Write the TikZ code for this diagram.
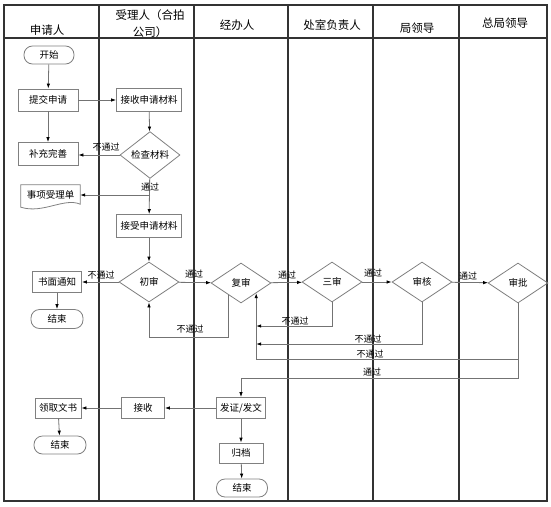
\documentclass[tikz,border=0pt]{standalone}
\usepackage{fontspec}
\setmainfont{Noto Sans CJK SC}
\usetikzlibrary{shapes.geometric,arrows.meta,calc}
\begin{document}
\begin{tikzpicture}[x=1pt,y=-1pt,
  lane/.style={draw=black!80, line width=1.2pt},
  box/.style={draw=black!50, line width=0.8pt, rectangle, inner sep=0pt, font=\fontsize{9.5}{11}\selectfont},
  term/.style={box, rounded corners=8.5pt},
  dia/.style={draw=black!50, line width=0.8pt, diamond, inner sep=0pt, minimum width=60pt, minimum height=40pt, font=\fontsize{9.5}{11}\selectfont},
  conn/.style={draw=black!55, line width=0.8pt, -{Latex[length=5pt,width=3.5pt,color=black]}},
  lbl/.style={font=\fontsize{9}{10}\selectfont, inner sep=0pt},
  hdr/.style={font=\fontsize{11.5}{17}\selectfont, align=center, inner sep=0pt}
]
\useasboundingbox (0,0) rectangle (551,506);

% frame and lanes
\draw[lane] (4,5) rectangle (547,501);
\draw[lane] (4,38) -- (547,38);
\foreach \xx in {99,194,288,373,459} { \draw[lane] (\xx,5) -- (\xx,501); }

% headers
\node[hdr] (h1) at (47,30) {申请人};
\node[hdr] (h2) at (150,24) {受理人（合拍\\公司）};
\node[hdr] (h3) at (237,25) {经办人};
\node[hdr] (h4) at (332,25) {处室负责人};
\node[hdr] (h5) at (417,28) {局领导};
\node[hdr] (h6) at (505,23) {总局领导};

% nodes
\node[term, minimum width=50pt, minimum height=18pt] (start) at (49,55) {开始};
\node[box, minimum width=60pt, minimum height=22pt] (submit) at (48,100) {提交申请};
\node[box, minimum width=65pt, minimum height=23pt] (recv) at (149,100) {接收申请材料};
\node[dia] (check) at (150,155) {检查材料};
\node[box, minimum width=60pt, minimum height=23pt] (supp) at (48,154) {补充完善};
\node[inner sep=0pt, minimum width=59pt, minimum height=20pt, font=\fontsize{9.5}{11}\selectfont] (doc) at (50.5,195) {事项受理单};
\draw[draw=black!50, line width=0.8pt] (doc.north west) -- (doc.north east) -- ($(doc.south east)+(0,-1)$)
  .. controls ($(doc.south east)+(-16,-8)$) and ($(doc.south west)+(22,9)$) .. ($(doc.south west)+(0,2)$) -- cycle;
\node[box, minimum width=65pt, minimum height=23pt] (accept) at (149,226) {接受申请材料};
\node[dia] (chu) at (149,282) {初审};
\node[box, minimum width=49pt, minimum height=21pt] (notice) at (57,282) {书面通知};
\node[term, minimum width=52pt, minimum height=19pt] (end1) at (57,319) {结束};
\node[dia] (fu) at (241,283) {复审};
\node[dia] (san) at (332,282) {三审};
\node[dia] (he) at (422,282) {审核};
\node[dia] (pi) at (518,283) {审批};
\node[box, minimum width=49pt, minimum height=21pt] (issue) at (241,408) {发证/发文};
\node[box, minimum width=43pt, minimum height=21pt] (take) at (143,408) {接收};
\node[box, minimum width=46pt, minimum height=20pt] (collect) at (58,408) {领取文书};
\node[term, minimum width=52pt, minimum height=18pt] (end2) at (60,445) {结束};
\node[box, minimum width=44pt, minimum height=20pt] (file) at (241,453) {归档};
\node[term, minimum width=51pt, minimum height=18pt] (end3) at (242,488) {结束};

% helper coordinates
\coordinate (b1) at (check.south |- doc.east);
\coordinate (fuL) at ($(fu.south)!0.4!(fu.west)$);
\coordinate (fuR) at ($(fu.south)!0.5!(fu.east)$);
\coordinate (y337) at (0,337);
\coordinate (y326) at (0,326);
\coordinate (y344) at (0,344);
\coordinate (y359) at (0,359);
\coordinate (y378) at (0,378);

% connectors
\draw[conn] (start) -- (submit);
\draw[conn] (submit) -- (recv);
\draw[conn] (submit) -- (supp);
\draw[conn] (recv) -- (check);
\draw[conn] (check.west) -- (check.west -| supp.east);
\draw[conn] (check) -- (accept);
\draw[conn] (b1) -- (doc.east);
\draw[conn] (accept) -- (chu);
\draw[conn] (chu) -- (notice);
\draw[conn] (notice) -- (end1);
\draw[conn] (chu) -- (fu);
\draw[conn] (fuL) -- (fuL |- y337) -- (chu.south |- y337) -- (chu.south);
\draw[conn] (fu) -- (san);
\draw[conn] (san) -- (he);
\draw[conn] (he) -- (pi);
\draw[conn] (san.south) -- (san.south |- y326) -- (fuR |- y326);
\draw[conn] (he.south) -- (he.south |- y344) -- (fuR |- y344);
\draw[conn] (pi.south) -- (pi.south |- y359) -- (fuR |- y359) -- (fuR);
\draw[conn] (pi.south) -- (pi.south |- y378) -- (issue.north |- y378) -- (issue.north);
\draw[conn] (issue) -- (take);
\draw[conn] (take) -- (collect);
\draw[conn] (collect) -- (end2);
\draw[conn] (issue) -- (file);
\draw[conn] (file) -- (end3);

% labels
\node[lbl] (l1) at (106,147) {不通过};
\node[lbl] (l2) at (150,187) {通过};
\node[lbl] (l3) at (101,275) {不通过};
\node[lbl] (l4) at (194,274) {通过};
\node[lbl] (l5) at (190,329) {不通过};
\node[lbl] (l6) at (287,275) {通过};
\node[lbl] (l7) at (373,273) {通过};
\node[lbl] (l8) at (468,276) {通过};
\node[lbl] (l9) at (295,321) {不通过};
\node[lbl] (l10) at (368,339) {不通过};
\node[lbl] (l11) at (370,354) {不通过};
\node[lbl] (l12) at (372,372) {通过};
\end{tikzpicture}
\end{document}
